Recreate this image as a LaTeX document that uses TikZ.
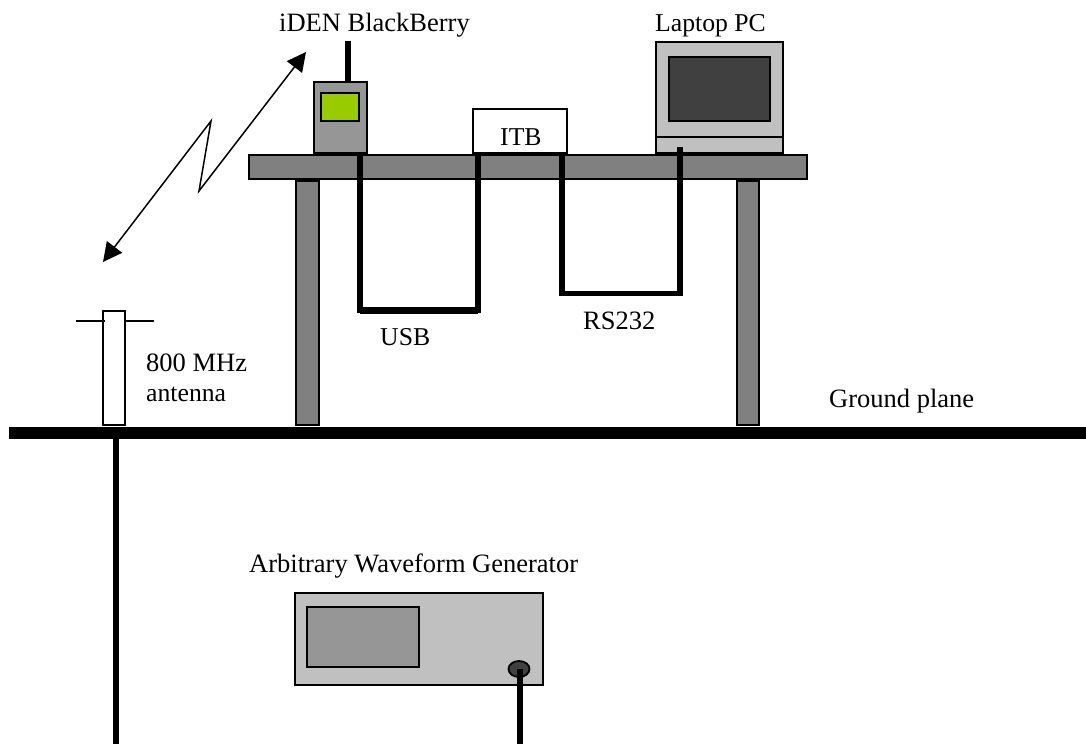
\documentclass[tikz,border=0pt]{standalone}
\usepackage{fontspec}
\setmainfont{Liberation Serif}
\usetikzlibrary{arrows.meta,shapes.geometric}
\definecolor{phonegreen}{HTML}{99CC00}
\definecolor{lightbox}{HTML}{C0C0C0}
\definecolor{darkbox}{HTML}{404040}
\definecolor{midbox}{HTML}{969696}
\definecolor{tablegray}{HTML}{808080}
\tikzset{
  box/.style={draw=black,line width=2pt,inner sep=0pt,outer sep=0pt,anchor=north west},
  cable/.style={line width=5.5pt,black},
  thin rule/.style={line width=1.8pt,black},
  radio/.style={line width=1.5pt,black,line join=miter,{Triangle[length=19pt,width=19pt]}-{Triangle[length=19pt,width=19pt]}},
  lbl/.style={anchor=base west,inner sep=0pt,font=\fontsize{26.5}{30}\selectfont},
  lblsmall/.style={lbl,font=\fontsize{25.7}{30}\selectfont}
}
\newcommand{\bx}[6]{\node[box,fill=#6,minimum width=#4pt-#2pt,minimum height=#5pt-#3pt] (#1) at (#2,#3) {};}
\begin{document}
\begin{tikzpicture}[x=1pt,y=-1pt]
\useasboundingbox (0,0) rectangle (1086,744);
% table
\bx{legl}{296}{181}{319}{425}{tablegray}
\bx{legr}{737}{181}{759}{425}{tablegray}
\bx{top}{249}{155}{807}{179}{tablegray}
% devices
\bx{phone}{314}{82}{367}{153}{midbox}
\bx{phonescr}{321}{93}{359}{121}{phonegreen}
\bx{itb}{473}{109}{567}{153}{white}
\bx{laptop}{656}{42}{783}{153}{lightbox}
\bx{laptopscr}{669}{57}{770}{121}{darkbox}
\coordinate (lapl) at (laptop.west |- 0,137);
\coordinate (lapr) at (laptop.east |- 0,137);
\draw[thin rule] (lapl) -- (lapr);
% phone antenna
\coordinate (phant) at (348,41);
\draw[cable] (phone.north -| phant) -- (phant);
% ground plane
\coordinate (gl) at (9,433);
\coordinate (gr) at (1086,433);
\draw[line width=12pt] (gl) -- (gr);
% antenna
\bx{ant}{103}{311}{125}{425}{white}
\coordinate (barl) at (76,321);
\coordinate (barr) at (154,321);
\draw[thin rule] (barl) -- (105,321);
\draw[thin rule] (125,321) -- (barr);
% generator
\bx{awg}{295}{593}{543}{685}{lightbox}
\bx{awgscr}{307}{607}{419}{667}{midbox}
\node[draw=black,line width=1.8pt,fill=darkbox,ellipse,minimum width=21pt,minimum height=16pt,inner sep=0pt] (knob) at (519,669) {};
% cables
\coordinate (usba) at (360,155);
\coordinate (usbb) at (360,310.5);
\coordinate (usbc) at (478,310.5);
\coordinate (usbd) at (478,155);
\draw[cable,line join=miter] (usba) -- (usbb) -- (usbc) -- (usbd);
\draw[line width=7pt] (usbb) -- (usbc);
\coordinate (rsa) at (562,155);
\coordinate (rsb) at (562,293.5);
\coordinate (rsc) at (680,293.5);
\coordinate (rsd) at (680,147);
\draw[cable,line join=miter] (rsa) -- (rsb) -- (rsc) -- (rsd);
\coordinate (feedt) at (116,439);
\coordinate (feedl) at (116,744);
\coordinate (knobt) at (520,669);
\coordinate (feedr) at (520,744);
\draw[line width=6pt] (feedt) -- (feedl);
\draw[line width=6pt] (knobt) -- (feedr);
% radio link
\coordinate (ra) at (306,52);
\coordinate (rb) at (199,191);
\coordinate (rc) at (211,121);
\coordinate (rd) at (103,262);
\draw[radio] (ra) -- (rb) -- (rc) -- (rd);
% labels
\node[lbl] (l1) at (279,31) {iDEN BlackBerry};
\node[lblsmall] (l2) at (655,31) {Laptop PC};
\node[lblsmall] (l3) at (500,145) {ITB};
\node[lblsmall] (l4) at (380,345) {USB};
\node[lbl] (l5) at (583,329) {RS232};
\node[lbl] (l6) at (146,371) {800 MHz};
\node[lblsmall] (l7) at (146,401) {antenna};
\node[lbl] (l8) at (829,407) {Ground plane};
\node[lbl] (l9) at (249,572) {Arbitrary Waveform Generator};
\end{tikzpicture}
\end{document}
